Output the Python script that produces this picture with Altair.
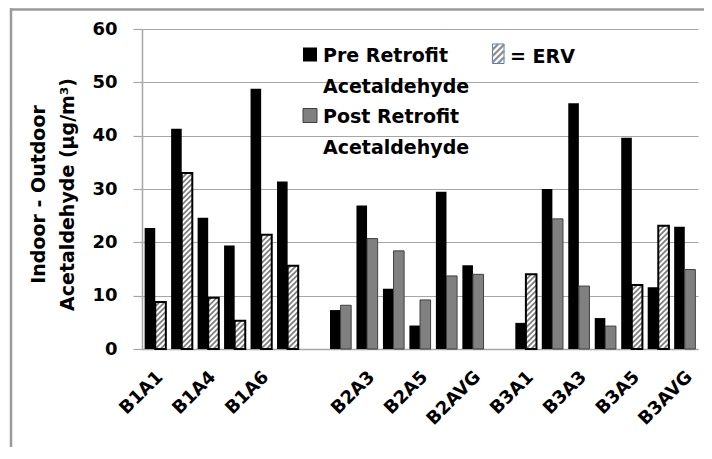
import altair as alt
import pandas as pd

# ---------------- data ----------------
categories = ["B1A1", "B1A2", "B1A4", "B1A5", "B1A6", "B1AVG", " ",
              "B2A2", "B2A3", "B2A4", "B2A5", "B2A6", "B2AVG", "  ",
              "B3A1", "B3A2", "B3A3", "B3A4", "B3A5", "B3A6", "B3AVG"]
shown_labels = ["B1A1", "B1A4", "B1A6", "B2A3", "B2A5", "B2AVG",
                "B3A1", "B3A3", "B3A5", "B3AVG"]

sites = ["B1A1", "B1A2", "B1A4", "B1A5", "B1A6", "B1AVG",
         "B2A2", "B2A3", "B2A4", "B2A5", "B2A6", "B2AVG",
         "B3A1", "B3A2", "B3A3", "B3A4", "B3A5", "B3A6", "B3AVG"]
pre_retrofit = [22.7, 41.3, 24.6, 19.4, 48.8, 31.4,
                7.3, 26.9, 11.3, 4.4, 29.5, 15.7,
                4.9, 30.0, 46.1, 5.8, 39.6, 11.6, 22.9]
post_retrofit = [8.8, 33.0, 9.6, 5.3, 21.4, 15.6,
                 8.2, 20.7, 18.4, 9.2, 13.7, 14.0,
                 14.0, 24.4, 11.8, 4.3, 12.0, 23.1, 14.9]
erv = [True, True, True, True, True, True,
       False, False, False, False, False, False,
       True, False, False, False, True, True, False]

rows = []
for s, a, b, e in zip(sites, pre_retrofit, post_retrofit, erv):
    rows.append({"site": s, "series": "Pre", "value": a, "style": "pre"})
    rows.append({"site": s, "series": "Post", "value": b, "style": "erv" if e else "gray"})
df = pd.DataFrame(rows)

# ---------------- layout ----------------
W, H = 556, 320
YMAX = 60
FONT = "DejaVu Sans"
GRID = "#a6a6a6"
FRAME = "#9a9a9a"

step_px = W / len(categories)
sub_w = step_px * 0.8 / 2
half_u = (sub_w / 2) * YMAX / H
gap_u = 1.0

# hatch segments for ERV bars (derived from the values)
hatch = []
for s, b, e in zip(sites, post_retrofit, erv):
    if not e:
        continue
    k = 0
    while k * gap_u - half_u < b:
        yc = k * gap_u
        t_lo = max(-1.0, -yc / half_u)
        t_hi = min(1.0, (b - yc) / half_u)
        if t_hi > t_lo:
            hatch.append({"site": s, "series": "Post", "y": yc,
                          "path": f"M{t_lo:.3f},{-t_lo:.3f}L{t_hi:.3f},{-t_hi:.3f}"})
        k += 1
hatch_df = pd.DataFrame(hatch)

label_list = "[" + ",".join(f"'{l}'" for l in shown_labels) + "]"

x_enc = alt.X("site:N",
              scale=alt.Scale(domain=categories, paddingInner=0.2, paddingOuter=0.1),
              axis=alt.Axis(title=None, labelAngle=315, labelAlign="right",
                            labelBaseline="middle", ticks=False, tickSize=0,
                            labelPadding=25, labelOffset=5, labelFont=FONT, labelFontSize=18,
                            labelFontWeight="bold", labelColor="#000000",
                            labelOverlap=False, domainColor=GRID, domainWidth=1.5,
                            grid=False,
                            labelExpr=f"indexof({label_list}, datum.value) >= 0 ? datum.value : ''"))
xo_enc = alt.XOffset("series:N",
                     scale=alt.Scale(domain=["Pre", "Post"], paddingInner=0, paddingOuter=0))
y_enc = alt.Y("value:Q",
              scale=alt.Scale(domain=[0, YMAX], nice=False),
              axis=alt.Axis(values=[0, 10, 20, 30, 40, 50, 60],
                            title=["Indoor - Outdoor", "Acetaldehyde (μg/m³)"],
                            titleFont=FONT, titleFontSize=19, titleFontWeight="bold",
                            titleColor="#000000", titleAngle=270, titleX=-98, titleY=165,
                            titleAlign="center", titleBaseline="alphabetic",
                            titleLineHeight=29,
                            labelFont=FONT, labelFontSize=18, labelFontWeight="bold",
                            labelColor="#000000", labelPadding=16,
                            tickColor=GRID, tickSize=9, tickWidth=1.2,
                            domainColor=GRID, domainWidth=1.5,
                            gridColor=GRID, gridWidth=1.2))

base = alt.Chart(df).encode(x=x_enc, xOffset=xo_enc, y=y_enc)

pre_bars = base.transform_filter("datum.style == 'pre'").mark_bar(
    color="#000000", strokeWidth=0)
gray_bars = base.transform_filter("datum.style == 'gray'").mark_bar(
    fill="#808080", stroke="#404040", strokeWidth=1)
erv_fill = base.transform_filter("datum.style == 'erv'").mark_bar(
    fill="#ffffff", strokeWidth=0)
erv_outline = base.transform_filter("datum.style == 'erv'").mark_bar(
    fill=None, fillOpacity=0, stroke="#000000", strokeWidth=2)

hatch_layer = alt.Chart(hatch_df).mark_point(
    filled=False, stroke="#7f7f7f", strokeWidth=1.8, opacity=1
).encode(
    x=alt.X("site:N"),
    xOffset=alt.XOffset("series:N"),
    y=alt.Y("y:Q"),
    shape=alt.Shape("path:N", scale=None),
    size=alt.value(sub_w * sub_w),
)

one = pd.DataFrame({"k": [0]})

# outer frame (its own layer, drawn last, independent of the data scales)
frame_top = alt.Chart(one).mark_rule(color=FRAME, strokeWidth=2.5).encode(
    x=alt.value(-132), x2=alt.value(W + 20), y=alt.value(-19.5), y2=alt.value(-19.5))
frame_left = alt.Chart(one).mark_rule(color=FRAME, strokeWidth=2.5).encode(
    x=alt.value(-131), x2=alt.value(-131), y=alt.value(-20.7), y2=alt.value(H + 150))
frame = alt.layer(frame_top, frame_left)

txt = dict(font=FONT, fontSize=19, fontWeight="bold", align="left",
           baseline="alphabetic", color="#000000", lineHeight=31)

pre_sq = alt.Chart(one).mark_square(color="#000000", size=196, opacity=1).encode(
    x=alt.value(168), y=alt.value(25.5))
pre_tx = alt.Chart(one).mark_text(**txt).encode(
    x=alt.value(181), y=alt.value(32.7), text=alt.value(["Pre Retrofit", "Acetaldehyde"]))
post_sq = alt.Chart(one).mark_square(fill="#808080", stroke="#404040", strokeWidth=1,
                                     size=196, opacity=1).encode(
    x=alt.value(168), y=alt.value(86.5))
post_tx = alt.Chart(one).mark_text(**txt).encode(
    x=alt.value(181), y=alt.value(93.7), text=alt.value(["Post Retrofit", "Acetaldehyde"]))

# ERV legend icon: outlined narrow box with diagonal stripes (custom symbols)
icon_box = alt.Chart(one).mark_point(
    shape="M-0.59,-1L0.59,-1L0.59,1L-0.59,1Z", filled=True, fill="#ffffff",
    stroke="#4a7ebb", strokeWidth=1, size=19.5 * 19.5, opacity=1
).encode(x=alt.value(356.25), y=alt.value(24.75))
hw = 0.6
paths = []
for c in [-1.0, -0.35, 0.3, 0.95]:
    x0 = max(-hw, c - 1)
    x1 = min(hw, c + 1)
    if x1 > x0:
        paths.append(f"M{x0:.2f},{c - x0:.2f}L{x1:.2f},{c - x1:.2f}")
icon_path = "".join(paths)
icon_hatch = alt.Chart(one).mark_point(
    shape=icon_path, filled=False, stroke="#8c8c8c", strokeWidth=2.2, size=19.5 * 19.5, opacity=1
).encode(x=alt.value(356.25), y=alt.value(24.75))
erv_tx = alt.Chart(one).mark_text(**txt).encode(
    x=alt.value(368), y=alt.value(34.3), text=alt.value("= ERV"))

main = alt.layer(
    pre_bars, gray_bars, erv_fill, hatch_layer, erv_outline,
    pre_sq, pre_tx, post_sq, post_tx, icon_box, icon_hatch, erv_tx
)

chart = alt.layer(main, frame).resolve_scale(
    x="independent", y="independent"
).properties(
    width=W, height=H,
    autosize=alt.AutoSizeParams(type="none"),
    padding={"left": 134, "top": 21, "right": 6, "bottom": 98},
    background="#ffffff",
).configure_view(stroke=None)

chart.save("out.html", embed_options={"renderer": "svg", "actions": False})
